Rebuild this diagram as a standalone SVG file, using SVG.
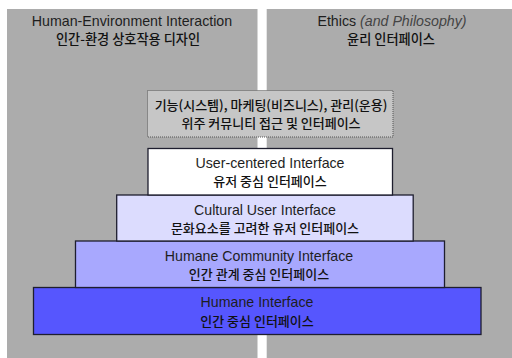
<svg xmlns="http://www.w3.org/2000/svg" width="512" height="358" viewBox="0 0 512 358">
<style>
.panel{fill:#acacac}
.box{stroke:#1e1e2e;stroke-width:1.3}
.en{font-family:"Liberation Sans","DejaVu Sans",sans-serif;font-size:14.2px;fill:#1e1e1e;text-anchor:middle}
.ko{font-family:"Noto Sans CJK KR","Noto Sans",sans-serif;font-size:13px;font-weight:500;fill:#111;text-anchor:middle}
.kt{font-size:13.2px}
</style>
<rect width="512" height="358" fill="#ffffff"/>
<g id="panel-left">
<rect class="panel" x="7" y="9" width="250.5" height="349"/>
<text class="en" x="132" y="25.5">Human-Environment Interaction</text>
<text class="ko kt" x="128" y="44">인간-환경 상호작용 디자인</text>
</g>
<g id="panel-right">
<rect class="panel" x="266.7" y="9" width="245.3" height="349"/>
<text class="en" x="392" y="25.5">Ethics <tspan font-style="italic" fill="#444">(and Philosophy)</tspan></text>
<text class="ko kt" x="391" y="44">윤리 인터페이스</text>
</g>
<g id="access-box">
<rect x="147.5" y="90.5" width="245.5" height="46.5" fill="#c6c6c6" stroke="#555" stroke-width="1" stroke-dasharray="1,1"/>
<text class="ko" x="271" y="109.5">기능(시스템), 마케팅(비즈니스), 관리(운용)</text>
<text class="ko" x="271" y="127.5">위주 커뮤니티 접근 및 인터페이스</text>
</g>
<g id="humane">
<rect class="box" x="33.5" y="287.5" width="447.5" height="47" fill="#5656fe"/>
<text class="en" x="257" y="307">Humane Interface</text>
<text class="ko" x="257" y="325.5">인간 중심 인터페이스</text>
</g>
<g id="humane-community">
<rect class="box" x="75.5" y="241" width="369" height="46.5" fill="#a8a8fe"/>
<text class="en" x="259" y="261">Humane Community Interface</text>
<text class="ko" x="259" y="279">인간 관계 중심 인터페이스</text>
</g>
<g id="cultural">
<rect class="box" x="116.7" y="195" width="296.5" height="46" fill="#dcdcfe"/>
<text class="en" x="265" y="215">Cultural User Interface</text>
<text class="ko" x="265" y="232.5">문화요소를 고려한 유저 인터페이스</text>
</g>
<g id="user-centered">
<rect class="box" x="148" y="148.5" width="244.5" height="46.5" fill="#ffffff"/>
<text class="en" x="270" y="168">User-centered Interface</text>
<text class="ko" x="270" y="186">유저 중심 인터페이스</text>
</g>
<g id="connectors"/>
</svg>
